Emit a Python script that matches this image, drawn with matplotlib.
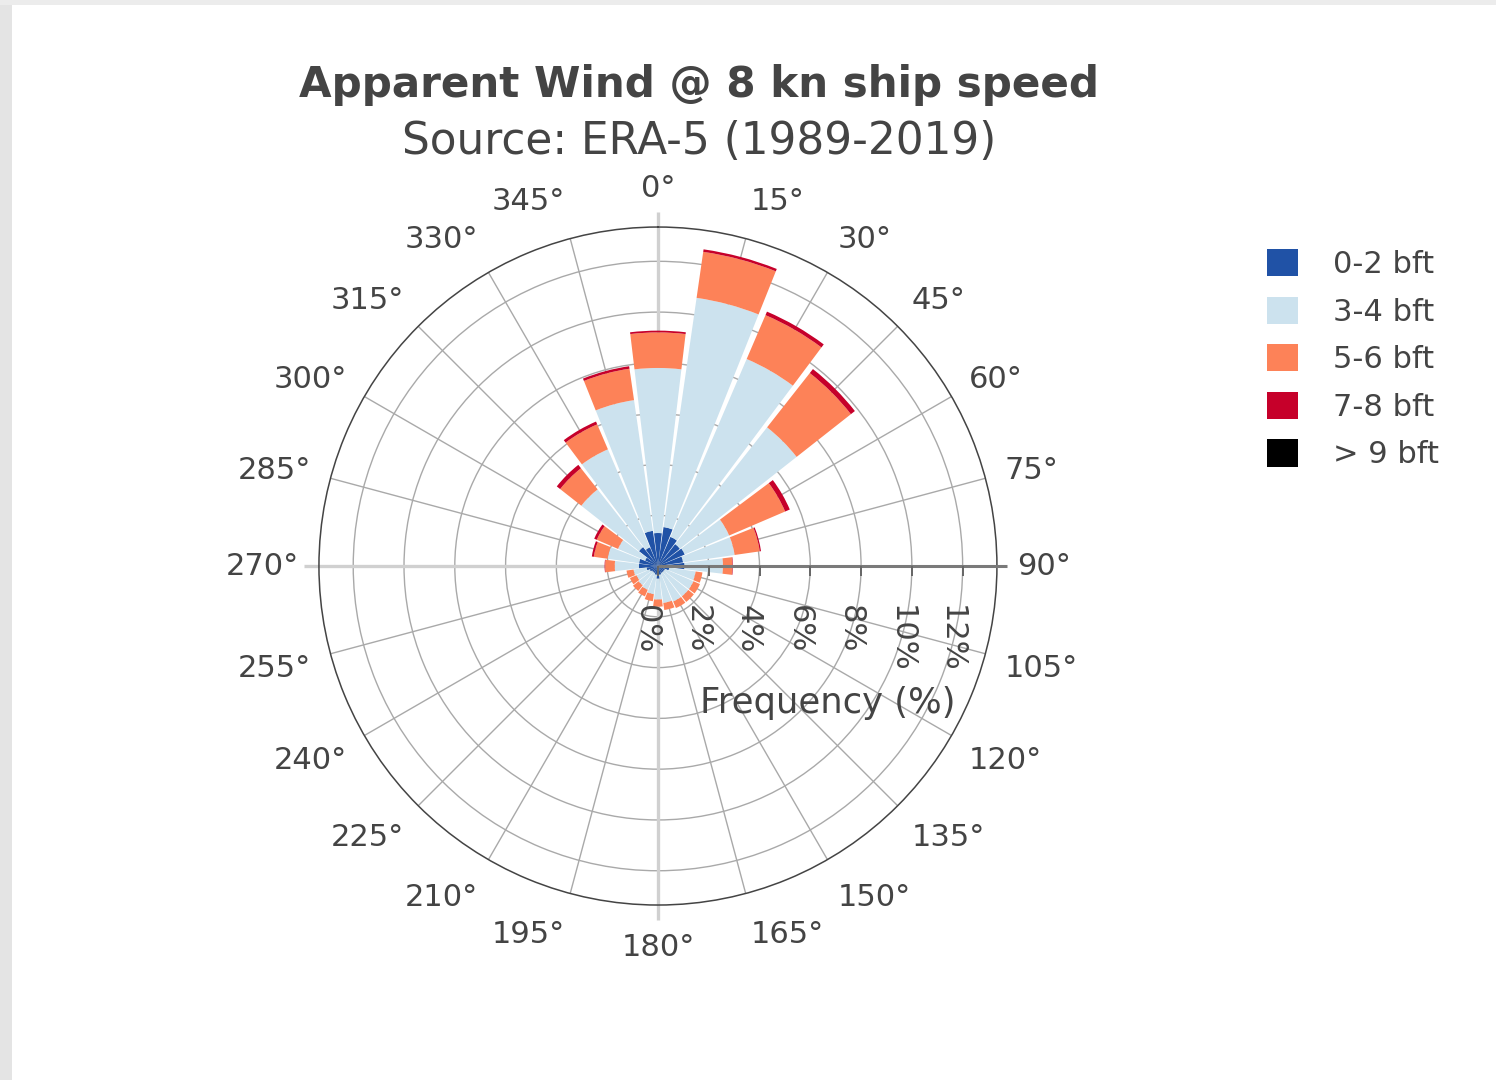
import numpy as np
import matplotlib
matplotlib.use('Agg')
import matplotlib.pyplot as plt
from matplotlib.patches import Patch, Rectangle

# apparent wind direction (deg) and frequency (%) per Beaufort class
directions = [0, 15, 30, 45, 60, 75, 90, 105, 120, 135, 150, 165,
              180, 195, 210, 225, 240, 255, 270, 285, 300, 315, 330, 345]
bft_0_2 = [1.30, 1.55, 1.25, 1.10, 1.15, 1.00, 1.05, 0.45, 0.30, 0.30, 0.30, 0.35,
           0.50, 0.35, 0.30, 0.30, 0.35, 0.45, 0.75, 0.75, 0.55, 0.95, 0.80, 1.40]
bft_3_4 = [6.50, 9.12, 7.62, 5.85, 1.90, 2.05, 1.51, 1.05, 1.22, 1.22, 1.22, 1.12,
           0.82, 0.77, 0.72, 0.67, 0.57, 0.52, 0.95, 1.25, 1.16, 2.89, 4.20, 5.20]
bft_5_6 = [1.40, 1.83, 1.88, 2.72, 2.40, 1.00, 0.37, 0.27, 0.28, 0.28, 0.28, 0.28,
           0.28, 0.28, 0.28, 0.28, 0.28, 0.28, 0.38, 0.55, 0.91, 1.06, 1.07, 1.25]
bft_7_8 = [0.07, 0.10, 0.15, 0.20, 0.20, 0.05, 0.02, 0.00, 0.00, 0.00, 0.00, 0.00,
           0.00, 0.00, 0.00, 0.00, 0.00, 0.00, 0.02, 0.08, 0.11, 0.17, 0.12, 0.10]
bft_9_up = [0.0] * 24

series = [bft_0_2, bft_3_4, bft_5_6, bft_7_8, bft_9_up]
labels = ['0-2 bft', '3-4 bft', '5-6 bft', '7-8 bft', '> 9 bft']
colors = ['#2052a6', '#cce2ee', '#fd8258', '#c6002a', '#000000']

r_ticks = [0, 2, 4, 6, 8, 10, 12]
r_max = 13.35
txt = '#444444'

fig = plt.figure(figsize=(14.96, 10.8), dpi=100)
fig.patch.set_facecolor('white')
# screenshot border
fig.add_artist(Rectangle((0, 0), 12 / 1496, 1, transform=fig.transFigure,
                         color='#e4e4e4', lw=0, zorder=-5))
fig.add_artist(Rectangle((0, 1 - 5 / 1080), 1, 5 / 1080, transform=fig.transFigure,
                         color='#ececec', lw=0, zorder=-5))

ax = fig.add_axes([0.2132, 0.162, 0.4532, 0.6278], projection='polar')
ax.set_theta_zero_location('N')
ax.set_theta_direction(-1)
ax.set_axisbelow(True)

theta = np.deg2rad(directions)
width = np.deg2rad(13.6)
bottom = np.zeros(len(directions))
for vals, col in zip(series, colors):
    vals = np.array(vals)
    ax.bar(theta, vals, width=width, bottom=bottom, color=col, lw=0, zorder=2)
    bottom += vals

ax.set_ylim(0, r_max)
ax.set_yticks(r_ticks[1:])
ax.set_yticklabels([])
ax.set_xticks(theta)
ax.set_xticklabels([])
ax.grid(True, color='#a9a9a9', lw=1.0)
ax.spines['polar'].set_color('#444444')
ax.spines['polar'].set_linewidth(1.1)
ax.tick_params(axis='x', direction='out', length=7, width=1.0, color='#444444')

# emphasised lines at 0, 180 and 270 deg
for a in [0, 180, 270]:
    ax.plot([np.deg2rad(a)] * 2, [0, r_max * 1.045], color='#d0d0d0', lw=2.4,
            zorder=1, clip_on=False, solid_capstyle='butt')

# radial axis along 90 deg
ax.plot([np.pi / 2] * 2, [0, r_max * 1.03], color='#7a7a7a', lw=2.2, zorder=5,
        clip_on=False, solid_capstyle='butt')
ax.plot([np.pi / 2] * len(r_ticks), r_ticks, ls='none', marker=3, ms=7, mew=1.4,
        color='#666666', zorder=5, clip_on=False)
for r in r_ticks:
    ax.annotate(f'{r}%', xy=(np.pi / 2, r), xytext=(-11, -39), textcoords='offset pixels',
                ha='center', va='top', rotation=-90, fontsize=22, color=txt,
                annotation_clip=False)
ax.annotate('Frequency (%)', xy=(np.pi / 2, r_max / 2), xytext=(0, -137),
            textcoords='offset pixels', ha='center', va='center', fontsize=25.5,
            color=txt, annotation_clip=False)

# angular tick labels, anchored like plotly (start / middle / end)
for d in directions:
    a = np.deg2rad(d)
    s, c = np.sin(a), np.cos(a)
    ha = 'left' if s > 0.01 else ('right' if s < -0.01 else 'center')
    if c >= 0:
        lift = 19 * c ** 1.5
    else:
        lift = -22 * abs(c) ** 0.6
    ax.annotate(f'{d}°', xy=(a, r_max), xytext=(s * 20, c * 20 + lift),
                textcoords='offset pixels', ha=ha, va='center', fontsize=22,
                color=txt, annotation_clip=False)

fig.text(699 / 1496, 1 - 85 / 1080, 'Apparent Wind @ 8 kn ship speed', ha='center',
         va='center', fontsize=30.3, fontweight='bold', color=txt)
fig.text(699 / 1496, 1 - 142 / 1080, 'Source: ERA-5 (1989-2019)', ha='center',
         va='center', fontsize=31.5, color=txt)

handles = [Patch(facecolor=c, edgecolor='none') for c in colors]
fig.legend(handles, labels, loc='upper left', bbox_to_anchor=(1267 / 1496, 1 - 249 / 1080),
           frameon=False, fontsize=22, handlelength=1.0, handleheight=1.0,
           handletextpad=1.15, labelspacing=0.57, borderpad=0, borderaxespad=0,
           labelcolor=txt)

fig.savefig('out.png', dpi=100, facecolor='white')
